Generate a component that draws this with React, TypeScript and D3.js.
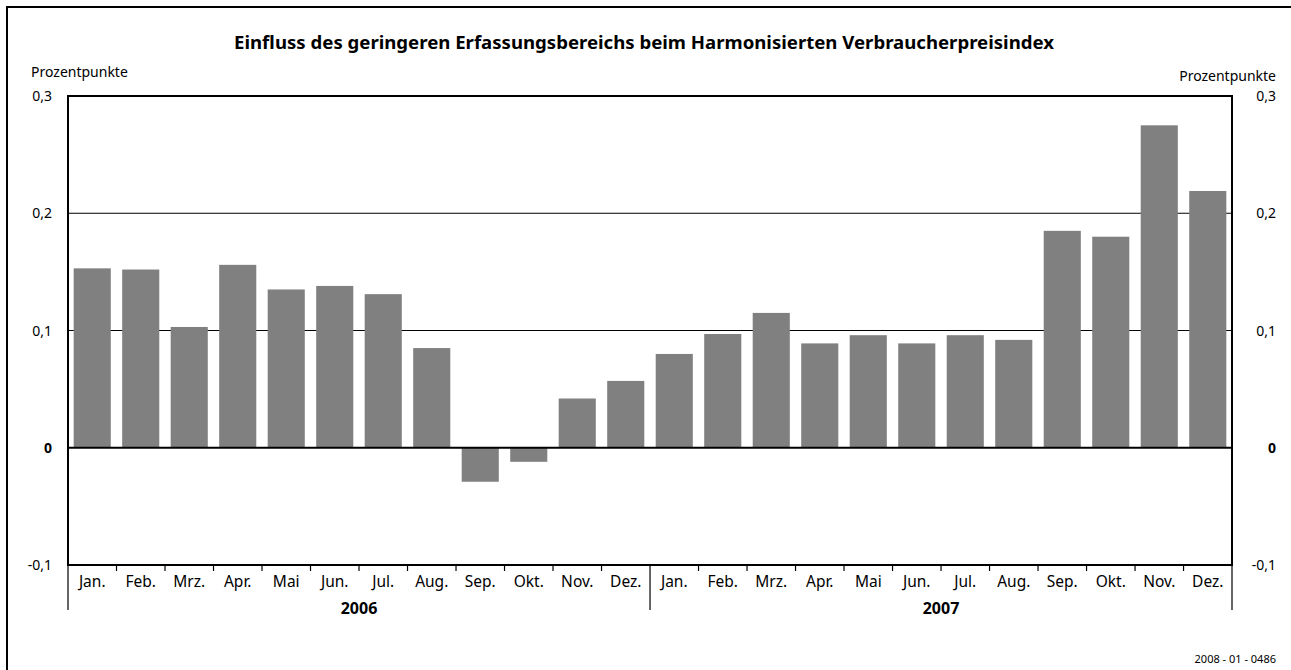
import React from "react";
import * as d3 from "d3";

const months = ["Jan.", "Feb.", "Mrz.", "Apr.", "Mai", "Jun.", "Jul.", "Aug.", "Sep.", "Okt.", "Nov.", "Dez."];
const years = ["2006", "2007"];
const values2006 = [0.153, 0.152, 0.103, 0.156, 0.135, 0.138, 0.131, 0.085, -0.029, -0.012, 0.042, 0.057];
const values2007 = [0.08, 0.097, 0.115, 0.089, 0.096, 0.089, 0.096, 0.092, 0.185, 0.18, 0.275, 0.219];
const yTicks = [-0.1, 0, 0.1, 0.2, 0.3];
const title = "Einfluss des geringeren Erfassungsbereichs beim Harmonisierten Verbraucherpreisindex";
const unitLabel = "Prozentpunkte";
const footnote = "2008 - 01 - 0486";

const W = 1291;
const H = 670;
const left = 68;
const right = 1232;
const top = 96;
const bottom = 565;
const font = "'Noto Sans', 'Open Sans', sans-serif";

export default function App() {
  const data = [
    ...values2006.map((v, i) => ({ key: `2006-${i}`, month: months[i], year: years[0], v })),
    ...values2007.map((v, i) => ({ key: `2007-${i}`, month: months[i], year: years[1], v })),
  ];
  const x = d3.scaleBand<string>().domain(data.map((d) => d.key)).range([left, right]).paddingInner(0.235).paddingOuter(0.117);
  const y = d3.scaleLinear().domain([-0.1, 0.3]).range([bottom, top]);
  const fmt = (t: number) => (t === 0 ? "0" : d3.format(".1f")(t).replace(".", ",").replace("−", "-"));
  const step = x.step();
  const mid = left + 12 * step;

  return (
    <svg width={W} height={H} style={{ position: "absolute", left: 0, top: 0 }} fontFamily={font}>
      <rect x={7} y={7} width={W + 20} height={H + 20} fill="white" stroke="black" strokeWidth={2} />
      <text x={644} y={49} textAnchor="middle" fontSize={18.6} fontWeight="bold">{title}</text>
      <text x={31} y={77} fontSize={14}>{unitLabel}</text>
      <text x={1276} y={81} fontSize={14} textAnchor="end">{unitLabel}</text>
      {/* gridlines */}
      {[0.1, 0.2].map((t) => (
        <line key={t} x1={left} x2={right} y1={y(t)} y2={y(t)} stroke="black" strokeWidth={1.2} />
      ))}
      {/* bars */}
      {data.map((d) => (
        <rect
          key={d.key}
          x={x(d.key)}
          width={x.bandwidth()}
          y={y(Math.max(0, d.v))}
          height={Math.abs(y(d.v) - y(0))}
          fill="#808080"
        />
      ))}
      {/* zero line */}
      <line x1={left} x2={right} y1={y(0)} y2={y(0)} stroke="black" strokeWidth={2.2} />
      {/* frame */}
      <path d={`M${left},${bottom} L${left},${top} L${right},${top} L${right},${bottom} Z`} fill="none" stroke="black" strokeWidth={2} />
      {/* y tick labels */}
      {yTicks.map((t) => (
        <g key={t} fontSize={14} fontWeight={t === 0 ? "bold" : "normal"}>
          <text x={52} y={y(t) + 5} textAnchor="end">{fmt(t)}</text>
          <text x={1276} y={y(t) + 5} textAnchor="end">{fmt(t)}</text>
        </g>
      ))}
      {/* x ticks */}
      {data.map((d, i) =>
        i > 0 && i !== 12 ? (
          <line key={"t" + d.key} x1={left + i * step} x2={left + i * step} y1={bottom} y2={bottom + 6} stroke="black" strokeWidth={1.2} />
        ) : null
      )}
      {[left, mid, right].map((xx) => (
        <line key={"s" + xx} x1={xx} x2={xx} y1={bottom} y2={610} stroke="black" strokeWidth={1.2} />
      ))}
      {data.map((d) => (
        <text key={"l" + d.key} x={x(d.key)! + x.bandwidth() / 2} y={587} textAnchor="middle" fontSize={15.5}>{d.month}</text>
      ))}
      {years.map((yr, i) => (
        <text key={yr} x={left + (i * 12 + 6) * step} y={614} textAnchor="middle" fontSize={16} fontWeight="bold">{yr}</text>
      ))}
      <text x={1276} y={663} textAnchor="end" fontSize={11}>{footnote}</text>
    </svg>
  );
}
